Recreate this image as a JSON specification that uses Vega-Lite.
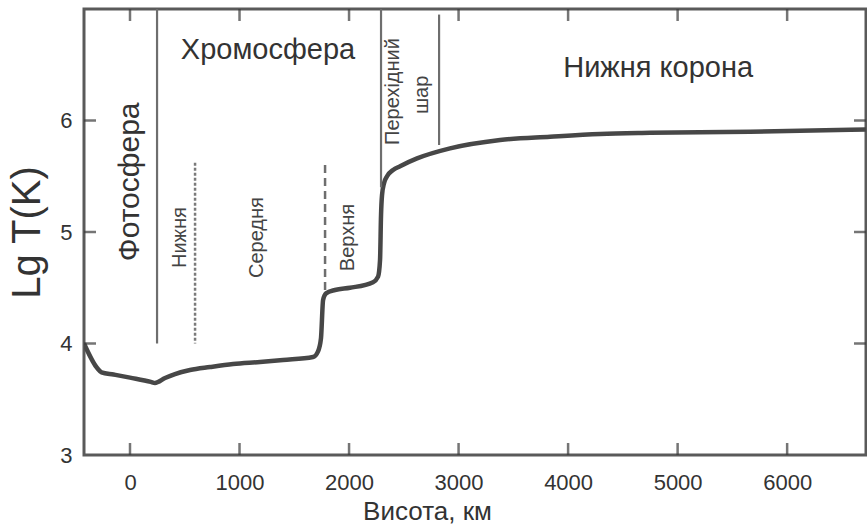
{
  "$schema": "https://vega.github.io/schema/vega-lite/v6.json",
  "width": 782,
  "height": 446,
  "autosize": {"type": "none"},
  "padding": {"left": 84, "top": 9, "right": 1, "bottom": 76},
  "background": "white",
  "config": {"view": {"stroke": "#5a5a5a", "strokeWidth": 3}, "font": "Liberation Sans"},
  "datasets": {
    "curve": [
      {"h": -420, "lgT": 4.0},
      {"h": -300, "lgT": 3.78},
      {"h": -260, "lgT": 3.742},
      {"h": -150, "lgT": 3.722},
      {"h": 0, "lgT": 3.694},
      {"h": 190, "lgT": 3.656},
      {"h": 228, "lgT": 3.646},
      {"h": 320, "lgT": 3.69},
      {"h": 411, "lgT": 3.726},
      {"h": 548, "lgT": 3.762},
      {"h": 731, "lgT": 3.789},
      {"h": 941, "lgT": 3.816},
      {"h": 1187, "lgT": 3.834},
      {"h": 1397, "lgT": 3.852},
      {"h": 1671, "lgT": 3.879},
      {"h": 1717, "lgT": 3.93},
      {"h": 1744, "lgT": 4.05},
      {"h": 1763, "lgT": 4.39},
      {"h": 1790, "lgT": 4.45},
      {"h": 1872, "lgT": 4.48},
      {"h": 2009, "lgT": 4.5},
      {"h": 2219, "lgT": 4.55},
      {"h": 2265, "lgT": 4.6},
      {"h": 2283, "lgT": 4.75},
      {"h": 2292, "lgT": 5.15},
      {"h": 2301, "lgT": 5.33},
      {"h": 2320, "lgT": 5.44},
      {"h": 2347, "lgT": 5.5},
      {"h": 2402, "lgT": 5.556},
      {"h": 2466, "lgT": 5.59},
      {"h": 2621, "lgT": 5.66},
      {"h": 2922, "lgT": 5.75},
      {"h": 3379, "lgT": 5.825},
      {"h": 3836, "lgT": 5.855},
      {"h": 4292, "lgT": 5.88},
      {"h": 4749, "lgT": 5.89},
      {"h": 5662, "lgT": 5.9},
      {"h": 6720, "lgT": 5.92}
    ],
    "bounds": [
      {"h": 247, "top": 7.0, "bottom": 4.0, "kind": "solid"},
      {"h": 2292, "top": 7.0, "bottom": 5.4, "kind": "solid"},
      {"h": 2822, "top": 6.95, "bottom": 5.78, "kind": "solid"},
      {"h": 594, "top": 5.62, "bottom": 4.0, "kind": "fine"},
      {"h": 1781, "top": 5.6, "bottom": 4.48, "kind": "dash"}
    ],
    "xticks": [
      {"h": 0, "lgT": 3}, {"h": 1000, "lgT": 3}, {"h": 2000, "lgT": 3}, {"h": 3000, "lgT": 3},
      {"h": 4000, "lgT": 3}, {"h": 5000, "lgT": 3}, {"h": 6000, "lgT": 3},
      {"h": 0, "lgT": 7}, {"h": 1000, "lgT": 7}, {"h": 2000, "lgT": 7}, {"h": 3000, "lgT": 7},
      {"h": 4000, "lgT": 7}, {"h": 5000, "lgT": 7}, {"h": 6000, "lgT": 7}
    ],
    "yticks": [
      {"h": -420, "lgT": 4}, {"h": -420, "lgT": 5}, {"h": -420, "lgT": 6},
      {"h": 6720, "lgT": 4}, {"h": 6720, "lgT": 5}, {"h": 6720, "lgT": 6}
    ],
    "bigText": [
      {"h": 1260, "lgT": 6.63, "label": "Хромосфера"},
      {"h": 4822, "lgT": 6.47, "label": "Нижня корона"}
    ],
    "bigVert": [
      {"h": 0, "lgT": 5.45, "label": "Фотосфера"}
    ],
    "smallVert": [
      {"h": 457, "lgT": 4.95, "label": "Нижня"},
      {"h": 1160, "lgT": 4.95, "label": "Середня"},
      {"h": 1990, "lgT": 4.95, "label": "Верхня"},
      {"h": 2402, "lgT": 6.26, "label": "Перехідний"},
      {"h": 2667, "lgT": 6.23, "label": "шар"}
    ]
  },
  "layer": [
    {
      "data": {"name": "curve"},
      "mark": {"type": "line", "color": "#474747", "strokeWidth": 4.5, "interpolate": "monotone", "clip": true},
      "encoding": {
        "x": {"field": "h", "type": "quantitative",
          "scale": {"domain": [-420, 6720], "nice": false, "zero": false},
          "axis": {"orient": "bottom", "values": [0, 1000, 2000, 3000, 4000, 5000, 6000], "format": "d", "title": "Висота, км",
            "grid": false, "ticks": false, "domain": false,
            "labelPadding": 17, "labelFontSize": 22, "labelColor": "#333",
            "titleFontSize": 26, "titleFontWeight": "normal", "titleColor": "#333", "titlePadding": 5, "titleX": 343}},
        "y": {"field": "lgT", "type": "quantitative",
          "scale": {"domain": [3, 7], "nice": false, "zero": false},
          "axis": {"orient": "left", "values": [3, 4, 5, 6], "format": "d", "title": "Lg T(K)",
            "grid": false, "ticks": false, "domain": false,
            "labelPadding": 12, "labelFontSize": 22, "labelColor": "#333",
            "titleFontSize": 40, "titleFontWeight": "normal", "titleColor": "#333", "titlePadding": 12}}
      }
    },
    {
      "data": {"name": "xticks"},
      "transform": [{"filter": "datum.lgT == 3"}],
      "mark": {"type": "tick", "orient": "vertical", "color": "#3a3a3a", "size": 12, "thickness": 2.5, "yOffset": -6},
      "encoding": {
        "x": {"field": "h", "type": "quantitative"},
        "y": {"field": "lgT", "type": "quantitative"}
      }
    },
    {
      "data": {"name": "xticks"},
      "transform": [{"filter": "datum.lgT == 7"}],
      "mark": {"type": "tick", "orient": "vertical", "color": "#3a3a3a", "size": 12, "thickness": 2.5, "yOffset": 6},
      "encoding": {
        "x": {"field": "h", "type": "quantitative"},
        "y": {"field": "lgT", "type": "quantitative"}
      }
    },
    {
      "data": {"name": "yticks"},
      "transform": [{"filter": "datum.h < 0"}],
      "mark": {"type": "tick", "orient": "horizontal", "color": "#3a3a3a", "size": 12, "thickness": 2.5, "xOffset": 6},
      "encoding": {
        "x": {"field": "h", "type": "quantitative"},
        "y": {"field": "lgT", "type": "quantitative"}
      }
    },
    {
      "data": {"name": "yticks"},
      "transform": [{"filter": "datum.h > 0"}],
      "mark": {"type": "tick", "orient": "horizontal", "color": "#3a3a3a", "size": 12, "thickness": 2.5, "xOffset": -6},
      "encoding": {
        "x": {"field": "h", "type": "quantitative"},
        "y": {"field": "lgT", "type": "quantitative"}
      }
    },
    {
      "data": {"name": "bounds"},
      "transform": [{"filter": "datum.kind == 'solid'"}],
      "mark": {"type": "rule", "color": "#6e6e6e", "strokeWidth": 2.2},
      "encoding": {
        "x": {"field": "h", "type": "quantitative"},
        "y": {"field": "top", "type": "quantitative"},
        "y2": {"field": "bottom"}
      }
    },
    {
      "data": {"name": "bounds"},
      "transform": [{"filter": "datum.kind == 'fine'"}],
      "mark": {"type": "rule", "color": "#7a7a7a", "strokeWidth": 2.5, "strokeDash": [3, 2]},
      "encoding": {
        "x": {"field": "h", "type": "quantitative"},
        "y": {"field": "top", "type": "quantitative"},
        "y2": {"field": "bottom"}
      }
    },
    {
      "data": {"name": "bounds"},
      "transform": [{"filter": "datum.kind == 'dash'"}],
      "mark": {"type": "rule", "color": "#6e6e6e", "strokeWidth": 2.5, "strokeDash": [8, 5]},
      "encoding": {
        "x": {"field": "h", "type": "quantitative"},
        "y": {"field": "top", "type": "quantitative"},
        "y2": {"field": "bottom"}
      }
    },
    {
      "data": {"name": "bigText"},
      "mark": {"type": "text", "fontSize": 29, "color": "#333", "align": "center", "baseline": "middle"},
      "encoding": {
        "x": {"field": "h", "type": "quantitative"},
        "y": {"field": "lgT", "type": "quantitative"},
        "text": {"field": "label"}
      }
    },
    {
      "data": {"name": "bigVert"},
      "mark": {"type": "text", "fontSize": 30, "color": "#333", "align": "center", "baseline": "middle", "angle": 270},
      "encoding": {
        "x": {"field": "h", "type": "quantitative"},
        "y": {"field": "lgT", "type": "quantitative"},
        "text": {"field": "label"}
      }
    },
    {
      "data": {"name": "smallVert"},
      "mark": {"type": "text", "fontSize": 20, "color": "#444", "align": "center", "baseline": "middle", "angle": 270},
      "encoding": {
        "x": {"field": "h", "type": "quantitative"},
        "y": {"field": "lgT", "type": "quantitative"},
        "text": {"field": "label"}
      }
    }
  ]
}
